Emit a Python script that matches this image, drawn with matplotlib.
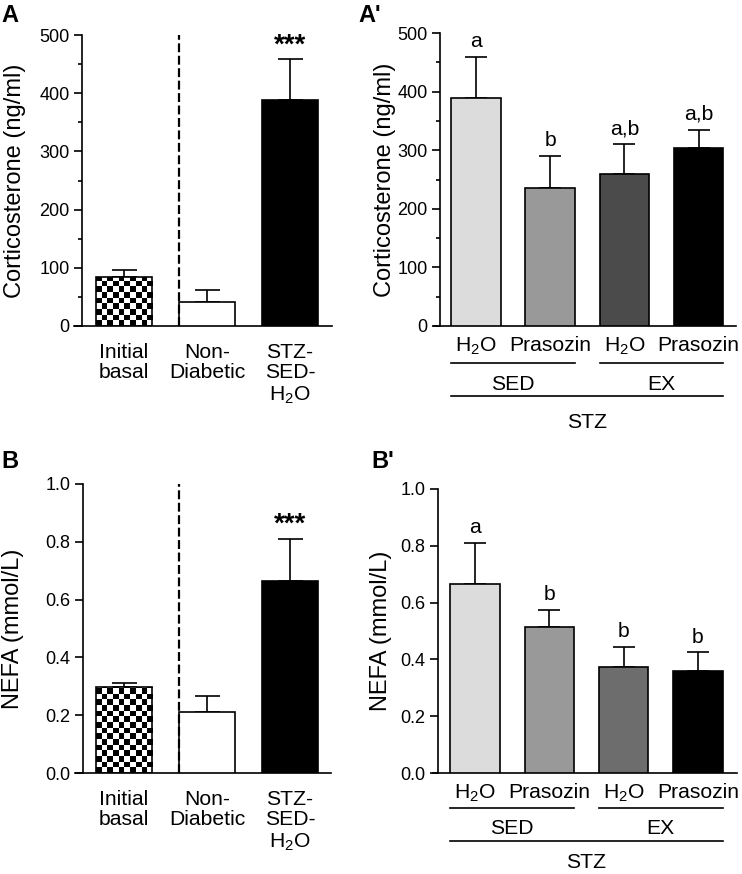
import numpy as np
import matplotlib
matplotlib.use('Agg')
import matplotlib.pyplot as plt
from matplotlib.ticker import MultipleLocator

plt.rcParams['font.family'] = ['Liberation Sans', 'DejaVu Sans']
plt.rcParams['mathtext.fontset'] = 'custom'
plt.rcParams['mathtext.rm'] = 'Liberation Sans'
plt.rcParams['mathtext.it'] = 'Liberation Sans:italic'
plt.rcParams['mathtext.bf'] = 'Liberation Sans:bold'

W, H = 742, 874

# ---- data ----
basal_labels = ['Initial\nbasal', 'Non-\nDiabetic', 'STZ-\nSED-\nH$_2$O']
cort_basal = [85, 42, 389]
cort_basal_err = [11, 19, 69]
nefa_basal = [0.298, 0.21, 0.665]
nefa_basal_err = [0.013, 0.055, 0.145]

stz_labels = ['H$_2$O', 'Prasozin', 'H$_2$O', 'Prasozin']
stz_groups = ['SED', 'EX']
cort_stz = [389, 235, 259, 304]
cort_stz_err = [70, 55, 51, 31]
cort_letters = ['a', 'b', 'a,b', 'a,b']
nefa_stz = [0.665, 0.515, 0.375, 0.36]
nefa_stz_err = [0.145, 0.06, 0.07, 0.065]
nefa_letters = ['a', 'b', 'b', 'b']

cort_colors = ['#dcdcdc', '#999999', '#4b4b4b', '#000000']
nefa_colors = ['#dcdcdc', '#999999', '#6d6d6d', '#000000']

fig = plt.figure(figsize=(W / 100, H / 100), dpi=100)

TICK_FS = 13
LAB_FS = 15.2
YLAB_FS = 17


def make_ax(x0, x1, y_top, y_bot, c0, step, spine_px, ymax, ylab_px):
    """axes placed in pixel coords; bar i is centred at pixel c0 + i*step"""
    ax = fig.add_axes([x0 / W, 1 - y_bot / H, (x1 - x0) / W, (y_bot - y_top) / H])
    ax.set_xlim((x0 - c0) / step, (x1 - c0) / step)
    ax.set_ylim(0, ymax)
    for s in ('top', 'right'):
        ax.spines[s].set_visible(False)
    ax.spines['left'].set_position(('data', (spine_px - c0) / step))
    ax.spines['left'].set_bounds(0, ymax)
    for s in ('left', 'bottom'):
        ax.spines[s].set_linewidth(1.2)
    ax.tick_params(axis='y', direction='out', length=6, width=1.2, labelsize=TICK_FS, pad=3)
    ax.tick_params(axis='y', which='minor', direction='out', length=3, width=1.2)
    ax.tick_params(axis='x', length=0, labelsize=LAB_FS)
    ax.yaxis.set_label_coords((ylab_px - x0) / (x1 - x0), 0.5)
    ax.patch.set_visible(False)
    return ax


def checker_fill(ax, bar, cell_px, px_per_x, px_per_y):
    x, y = bar.get_x(), bar.get_y()
    w, h = bar.get_width(), bar.get_height()
    nx = int(round(w * px_per_x / cell_px))
    ny = int(np.ceil(h * px_per_y / cell_px)) + 1
    cell_y = w / nx * px_per_x / px_per_y
    pat = (np.indices((ny, nx)).sum(axis=0) % 2).astype(float)
    im = ax.imshow(pat, cmap='gray', extent=[x, x + w, y, y + ny * cell_y], origin='lower',
                   aspect='auto', interpolation='nearest', zorder=2)
    im.set_clip_path(bar)


def basal_panel(ax, vals, errs, ymax, px_per_x, px_per_y, ylabel):
    xs = np.arange(len(vals))
    bw = 0.675
    ax.errorbar(xs, vals, yerr=[np.zeros(len(vals)), errs], fmt='none', ecolor='black',
                elinewidth=1.2, capsize=9, capthick=1.2, zorder=1)
    bars = ax.bar(xs, vals, width=bw, color=['white', 'white', 'black'],
                  edgecolor='black', linewidth=1.2, zorder=3)
    bars[0].set_facecolor('none')
    checker_fill(ax, bars[0], 5.4, px_per_x, px_per_y)
    # dashed separator at the left edge of the non-diabetic bar
    ax.plot([1 - bw / 2, 1 - bw / 2], [0, ymax], color='black', lw=1.6,
            linestyle=(0, (4, 1.6)), zorder=4, clip_on=False)
    ax.annotate('***', xy=(2, vals[2] + errs[2]), xytext=(0, 5), textcoords='offset points',
                ha='center', va='baseline', fontsize=20, fontweight='bold')
    ax.set_xticks(xs)
    ax.set_xticklabels(basal_labels, linespacing=1.12, va='top')
    ax.tick_params(axis='x', pad=12)
    ax.set_ylabel(ylabel, fontsize=YLAB_FS)


def stz_panel(ax, vals, errs, colors, letters, ylabel, axis_h_px, offs):
    xs = np.arange(len(vals))
    bw = 0.667
    ax.errorbar(xs, vals, yerr=[np.zeros(len(vals)), errs], fmt='none', ecolor='black',
                elinewidth=1.2, capsize=8, capthick=1.2, zorder=1)
    ax.bar(xs, vals, width=bw, color=colors, edgecolor='black', linewidth=1.2, zorder=3)
    for x, v, e, t in zip(xs, vals, errs, letters):
        ax.annotate(t, xy=(x, v + e), xytext=(0, 7), textcoords='offset points',
                    ha='center', va='baseline', fontsize=LAB_FS)
    ax.set_xticks(xs)
    ax.set_xticklabels(stz_labels)
    ax.tick_params(axis='x', pad=7)
    ax.set_ylabel(ylabel, fontsize=YLAB_FS)
    tr = ax.get_xaxis_transform()
    fy = lambda px: -px / axis_h_px
    line1, txt1, line2, txt2 = offs
    for g, name in enumerate(stz_groups):
        a, b = 2 * g - bw / 2, 2 * g + 1 + bw / 2
        ax.plot([a, b], [fy(line1), fy(line1)], transform=tr, color='black', lw=1.2, clip_on=False)
        ax.text((a + b) / 2, fy(txt1), name, transform=tr, ha='center', va='center', fontsize=LAB_FS)
    a, b = -bw / 2, 3 + bw / 2
    ax.plot([a, b], [fy(line2), fy(line2)], transform=tr, color='black', lw=1.2, clip_on=False)
    ax.text((a + b) / 2, fy(txt2), 'STZ', transform=tr, ha='center', va='center', fontsize=LAB_FS)


# ---- panel A ----
axA = make_ax(74, 332, 35, 326, 124, 83, 82, 500, 26)
axA.yaxis.set_major_locator(MultipleLocator(100))
axA.yaxis.set_minor_locator(MultipleLocator(50))
basal_panel(axA, cort_basal, cort_basal_err, 500, 83, 291 / 500, 'Corticosterone (ng/ml)')

# ---- panel A' ----
axA2 = make_ax(434, 736, 33, 326, 476, 74.2, 440, 500, 396)
axA2.yaxis.set_major_locator(MultipleLocator(100))
axA2.yaxis.set_minor_locator(MultipleLocator(50))
stz_panel(axA2, cort_stz, cort_stz_err, cort_colors, cort_letters,
          'Corticosterone (ng/ml)', 293, (37, 58, 70, 96))

# ---- panel B ----
axB = make_ax(75, 331, 484, 773, 124, 83, 83, 1.0, 24)
axB.yaxis.set_major_locator(MultipleLocator(0.2))
axB.yaxis.set_major_formatter(plt.FormatStrFormatter('%.1f'))
basal_panel(axB, nefa_basal, nefa_basal_err, 1.0, 83, 289 / 1.0, 'NEFA (mmol/L)')

# ---- panel B' ----
axB2 = make_ax(433, 737, 489, 773, 475, 74.3, 438, 1.0, 392)
axB2.yaxis.set_major_locator(MultipleLocator(0.2))
axB2.yaxis.set_major_formatter(plt.FormatStrFormatter('%.1f'))
stz_panel(axB2, nefa_stz, nefa_stz_err, nefa_colors, nefa_letters,
          'NEFA (mmol/L)', 284, (35, 55, 68, 90))

# panel letters
for x, y, t in ((1, 4, 'A'), (358, 4, "A'"), (1, 450, 'B'), (371, 450, "B'")):
    fig.text(x / W, 1 - y / H, t, ha='left', va='top', fontsize=17, fontweight='bold')

fig.savefig('out.png', dpi=100)
